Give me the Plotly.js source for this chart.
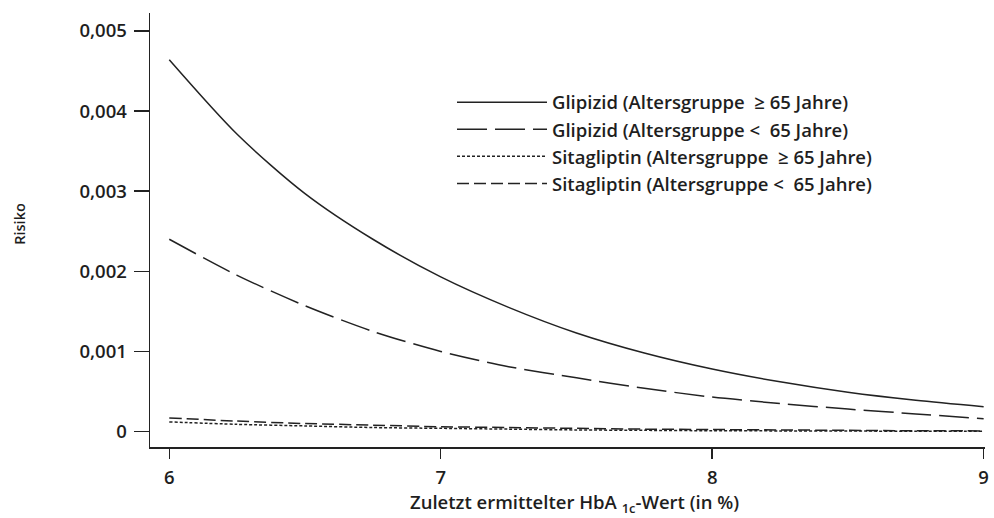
<!DOCTYPE html>
<html>
<head>
<meta charset="utf-8">
<script src="https://cdn.plot.ly/plotly-3.0.1.min.js"></script>
<style>html,body{margin:0;padding:0;background:#fff;}#chart{width:994px;height:518px;}</style>
</head>
<body>
<div id="chart"></div>
<script>
// HbA1c values (%)
const hba1c = [6, 6.25, 6.5, 6.75, 7, 7.25, 7.5, 7.75, 8, 8.25, 8.5, 8.75, 9];
// Risk estimates
const glipizidOld   = [0.00464, 0.00371, 0.00297, 0.00240, 0.00193, 0.00155, 0.00123, 0.00098, 0.00078, 0.00062, 0.00049, 0.00039, 0.00031];
const glipizidYoung = [0.00240, 0.00195, 0.00157, 0.00125, 0.00100, 0.00081, 0.00067, 0.00054, 0.00043, 0.00035, 0.00028, 0.00022, 0.00016];
const sitaOld       = [0.00012, 0.00009, 0.00007, 0.00005, 0.00004, 0.00003, 0.00002, 0.000015, 0.00001, 0.000008, 0.000006, 0.000004, 0.000003];
const sitaYoung     = [0.00017, 0.00013, 0.00010, 0.00008, 0.00006, 0.00005, 0.00004, 0.00003, 0.000025, 0.00002, 0.000015, 0.00001, 0.000008];

const seriesNames = [
  'Glipizid (Altersgruppe  \u2265 65 Jahre)',
  'Glipizid (Altersgruppe <  65 Jahre)',
  'Sitagliptin (Altersgruppe  \u2265 65 Jahre)',
  'Sitagliptin (Altersgruppe <  65 Jahre)'
];
const yTickVals = [0, 0.001, 0.002, 0.003, 0.004, 0.005];
const yTickText = ['0', '0,001', '0,002', '0,003', '0,004', '0,005'];
const xTickVals = [6, 7, 8, 9];
const xTickText = ['6', '7', '8', '9'];

const lineColor = '#222222';
const dashes = ['solid', '30px,8px', '3px,2px', '12px,5px'];
const ys = [glipizidOld, glipizidYoung, sitaOld, sitaYoung];

const traces = ys.map((y, i) => ({
  x: hba1c, y: y, type: 'scatter', mode: 'lines',
  name: seriesNames[i], legendgroup: 'g' + i,
  line: {color: lineColor, width: 1.5, dash: dashes[i], shape: 'spline', smoothing: 0.8}
}));

const fam = 'Open Sans, sans-serif';
const txtColor = '#1e1e1e';

const layout = {
  width: 994, height: 518,
  margin: {l: 150, r: 9, t: 13, b: 71},
  paper_bgcolor: '#fff', plot_bgcolor: '#fff',
  font: {family: fam, color: txtColor, size: 18, weight: 600},
  showlegend: true,
  legend: {
    x: (452 - 150) / 835, y: 0.837, xanchor: 'left', yanchor: 'top',
    bgcolor: 'rgba(0,0,0,0)', itemwidth: 90,
    traceorder: 'grouped', tracegroupgap: 0,
    font: {family: fam, size: 18.5, color: txtColor, weight: 600}
  },
  xaxis: {
    range: [5.929, 9.005], showgrid: false, zeroline: false,
    showline: true, linecolor: lineColor, linewidth: 1.5,
    ticks: 'outside', ticklen: 10, tickwidth: 1.5, tickcolor: lineColor,
    tickvals: xTickVals, ticktext: xTickText, ticklabelstandoff: 3,
    tickfont: {family: fam, size: 18.5, color: txtColor, weight: 600}
  },
  yaxis: {
    range: [-0.000193, 0.005224], showgrid: false, zeroline: false,
    showline: true, linecolor: lineColor, linewidth: 1.5,
    ticks: 'outside', ticklen: 15, tickwidth: 1.5, tickcolor: lineColor,
    tickvals: yTickVals, ticktext: yTickText, ticklabelstandoff: 3,
    tickfont: {family: fam, size: 18.5, color: txtColor, weight: 600}
  },
  annotations: [
    {text: 'Zuletzt ermittelter HbA <sub>1c</sub>-Wert (in %)', xref: 'paper', yref: 'paper',
     x: (574 - 150) / 835, y: -0.129, xanchor: 'center', yanchor: 'middle', showarrow: false,
     font: {family: fam, size: 18.5, color: txtColor, weight: 600}},
    {text: 'Risiko', xref: 'paper', yref: 'paper', textangle: -90,
     x: -0.156, y: (447 - 224) / 434, xanchor: 'center', yanchor: 'middle', showarrow: false,
     font: {family: fam, size: 14.5, color: txtColor, weight: 600}}
  ]
};

Plotly.newPlot('chart', traces, layout, {displayModeBar: false, staticPlot: true});
</script>
</body>
</html>
